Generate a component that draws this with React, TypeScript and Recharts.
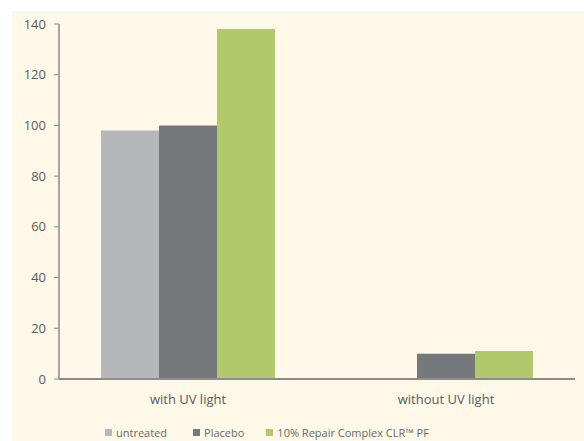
import { Bar, BarChart, XAxis, YAxis } from 'recharts'

const CATEGORIES = ['with UV light', 'without UV light']
const UNTREATED = [98, 0]
const PLACEBO = [100, 10]
const REPAIR = [138, 11]
const Y_TICKS = [0, 20, 40, 60, 80, 100, 120, 140]

const SERIES = [
  { key: 'untreated', name: 'untreated', color: '#b5b8bb' },
  { key: 'placebo', name: 'Placebo', color: '#76797c' },
  { key: 'repair', name: '10% Repair Complex CLR\u2122 PF', color: '#b1c96b' },
]

const AXIS = '#8c8c8c'
const TEXT = '#5a5a5a'
const FONT = '"Open Sans", "Noto Sans", sans-serif'

export default function App() {
  const data = CATEGORIES.map((c, i) => ({
    name: c,
    untreated: UNTREATED[i],
    placebo: PLACEBO[i],
    repair: REPAIR[i],
  }))

  return (
    <div style={{ position: 'absolute', left: 0, top: 0, width: 584, height: 441, background: '#fff', fontFamily: FONT }}>
      <div style={{ position: 'absolute', left: 12, top: 11, right: 0, bottom: 0, background: '#fdf8e8' }} />
      <div style={{ position: 'absolute', left: 0, top: 0 }}>
        <BarChart
          width={584}
          height={441}
          data={data}
          margin={{ top: 24, right: 9, bottom: 32, left: 15 }}
          barGap={0}
          barCategoryGap={42}
        >
          <XAxis
            xAxisId="marks"
            type="number"
            domain={[0, 2]}
            ticks={[1, 2]}
            axisLine={false}
            tick={{ fontSize: 0, fill: 'none' }}
            tickLine={{ stroke: AXIS, strokeWidth: 1.5 }}
            tickSize={4}
            height={0}
          />
          <XAxis
            dataKey="name"
            height={30}
            tickSize={0}
            tickMargin={16}
            axisLine={{ stroke: AXIS, strokeWidth: 2 }}
            tick={{ fill: TEXT, fontSize: 13, fontFamily: FONT }}
          />
          <YAxis
            domain={[0, 140]}
            ticks={Y_TICKS}
            width={44}
            tickSize={5}
            tickMargin={8}
            axisLine={{ stroke: AXIS, strokeWidth: 1.5 }}
            tickLine={{ stroke: AXIS }}
            tick={{ fill: TEXT, fontSize: 13, fontFamily: FONT }}
          />
          {SERIES.map((s) => (
            <Bar key={s.key} dataKey={s.key} name={s.name} fill={s.color} isAnimationActive={false} />
          ))}
        </BarChart>
      </div>
      <div
        style={{
          position: 'absolute',
          left: 105,
          top: 425,
          display: 'flex',
          fontSize: 11,
          color: '#6a6a6a',
          whiteSpace: 'nowrap',
        }}
      >
        {SERIES.map((s, i) => (
          <div key={s.key} style={{ display: 'flex', alignItems: 'center', marginRight: i === 0 ? 26 : 22 }}>
            <span style={{ display: 'inline-block', width: 7, height: 7, background: s.color, marginRight: 4 }} />
            {s.name}
          </div>
        ))}
      </div>
    </div>
  )
}
